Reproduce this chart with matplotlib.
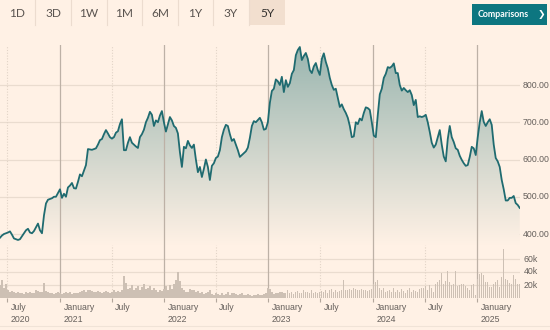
#!/usr/bin/env python
"""Five-year share price chart with weekly volume, FT markets style."""

import matplotlib

matplotlib.use("Agg")
import matplotlib.pyplot as plt
import matplotlib.dates as mdates
import matplotlib.transforms as mtransforms
from matplotlib.colors import LinearSegmentedColormap
from matplotlib.patches import Rectangle
import numpy as np
import pandas as pd


START = "2020-06-05"
END = "2025-05-31"

# weekly closing price
PRICE = [
    390, 396, 400, 402, 404, 407, 398, 388, 386, 384,
    386, 394, 402, 410, 414, 404, 402, 408, 418, 428,
    410, 402, 450, 482, 492, 494, 496, 500, 500, 510,
    520, 497, 508, 500, 525, 530, 537, 523, 522, 540,
    560, 555, 570, 585, 628, 627, 626, 628, 630, 640,
    652, 655, 668, 679, 670, 660, 656, 660, 672, 676,
    695, 708, 625, 625, 645, 660, 645, 640, 635, 631,
    660, 668, 680, 700, 712, 728, 720, 690, 705, 700,
    718, 730, 700, 675, 695, 714, 705, 690, 685, 670,
    620, 580, 634, 630, 650, 638, 631, 640, 600, 566,
    580, 553, 575, 600, 580, 545, 583, 590, 604, 608,
    625, 660, 680, 693, 690, 668, 650, 655, 640, 625,
    607, 612, 617, 622, 632, 658, 690, 703, 700, 706,
    712, 700, 680, 682, 700, 752, 784, 790, 815, 810,
    800, 822, 781, 813, 795, 805, 830, 840, 880, 894,
    902, 867, 878, 886, 870, 840, 832, 850, 859, 840,
    827, 870, 885, 862, 845, 819, 800, 787, 790, 765,
    741, 748, 735, 725, 712, 690, 660, 662, 700, 695,
    710, 705, 725, 740, 738, 733, 700, 664, 660, 720,
    775, 790, 819, 830, 848, 846, 850, 858, 832, 832,
    800, 785, 792, 786, 781, 786, 773, 746, 760, 714,
    716, 714, 716, 720, 700, 674, 645, 632, 640, 660,
    679, 640, 608, 595, 655, 690, 660, 647, 630, 626,
    610, 599, 590, 583, 585, 607, 634, 630, 612, 660,
    700, 730, 701, 690, 700, 708, 693, 640, 604, 595,
    580, 545, 520, 490, 490, 497, 497, 502, 483, 478,
    470,
]

# weekly volume, thousands of shares
VOLUME_K = [
    20, 28, 15, 22, 12, 10, 11, 9, 8, 10,
    7, 8, 6, 9, 8, 10, 7, 8, 12, 11,
    10, 9, 23, 11, 9, 8, 7, 6, 8, 9,
    7, 6, 8, 10, 7, 9, 6, 8, 7, 8,
    9, 11, 12, 10, 13, 12, 11, 9, 10, 11,
    9, 8, 10, 11, 9, 8, 10, 12, 9, 11,
    10, 13, 34, 23, 14, 16, 20, 12, 15, 18,
    13, 17, 21, 14, 16, 19, 12, 15, 13, 10,
    12, 11, 14, 18, 12, 20, 14, 22, 28, 40,
    26, 15, 13, 10, 9, 14, 12, 13, 9, 11,
    8, 10, 6, 7, 9, 12, 6, 5, 7, 6,
    5, 7, 4, 6, 9, 5, 7, 8, 6, 5,
    6, 7, 5, 4, 6, 5, 3, 5, 4, 6,
    5, 4, 6, 8, 15, 14, 9, 6, 8, 7,
    10, 9, 8, 7, 12, 8, 10, 6, 9, 11,
    8, 7, 13, 9, 10, 8, 12, 7, 9, 8,
    10, 11, 9, 12, 8, 13, 14, 10, 12, 9,
    11, 13, 28, 12, 13, 14, 12, 15, 14, 13,
    12, 14, 13, 12, 11, 13, 14, 22, 24, 28,
    16, 12, 15, 10, 11, 13, 9, 15, 10, 12,
    9, 14, 11, 8, 12, 15, 10, 13, 11, 9,
    14, 16, 15, 18, 12, 20, 16, 10, 22, 25,
    28, 38, 22, 26, 42, 24, 20, 22, 42, 18,
    20, 22, 21, 18, 15, 12, 20, 22, 5, 29,
    37, 38, 35, 25, 25, 17, 17, 22, 25, 28,
    17, 32, 75, 30, 28, 23, 22, 35, 30, 22,
    22,
]

PRICE_TICKS = [400, 500, 600, 700, 800]
VOLUME_TICKS = [20, 40, 60]
RANGE_BUTTONS = ["1D", "3D", "1W", "1M", "6M", "1Y", "3Y", "5Y"]
ACTIVE_RANGE = "5Y"

BG = "#fff1e5"
LINE = "#1f6b70"
GRID = "#eadccf"
TEXT = "#66605c"
AXIS_FONT = 6.3

W, H = 550, 330


def fx(px):
    return px / W


def fy(py):
    return 1 - py / H


def main() -> None:
    dates = pd.date_range(START, periods=len(PRICE), freq="7D")
    x0, x1 = mdates.date2num(pd.Timestamp(START)), mdates.date2num(pd.Timestamp(END))

    fig = plt.figure(figsize=(W / 100, H / 100), dpi=100, facecolor=BG)
    plot_right = 520

    ax = fig.add_axes([0, fy(245), fx(plot_right), fy(45) - fy(245)])
    axv = fig.add_axes([0, fy(298), fx(plot_right), fy(245) - fy(298)], sharex=ax)
    for a in (ax, axv):
        a.set_facecolor("none")
        for s in a.spines.values():
            s.set_visible(False)
        a.tick_params(left=False, right=False, labelleft=False, top=False)
    ax.tick_params(axis="x", bottom=False, labelbottom=False)

    label_x = fig.transFigure + mtransforms.Affine2D()
    right_tf = mtransforms.blended_transform_factory(fig.transFigure, ax.transData)
    right_tf_v = mtransforms.blended_transform_factory(fig.transFigure, axv.transData)

    # price panel
    ylo = 400 - 11 / 0.3725
    yhi = 800 + 40 / 0.3725
    ax.set_ylim(ylo, yhi)
    for p in PRICE_TICKS:
        ax.axhline(p, color=GRID, lw=0.9, zorder=0)
        ax.text(fx(522.5), p, f"{p:.2f}", transform=right_tf,
                ha="left", va="center", fontsize=AXIS_FONT, color=TEXT,
                family="Liberation Sans", clip_on=False)

    fade = LinearSegmentedColormap.from_list("fade", [BG, "#9ab6b0"])
    grad = np.linspace(1, 0, 256).reshape(-1, 1)
    im = ax.imshow(grad, extent=[x0, x1, ylo, max(PRICE)], aspect="auto",
                   cmap=fade, origin="upper", zorder=1)
    area = ax.fill_between(dates, PRICE, ylo, color="none", lw=0)
    im.set_clip_path(area.get_paths()[0], transform=ax.transData)
    ax.plot(dates, PRICE, color=LINE, lw=1.3, zorder=3, solid_joinstyle="round")

    # volume panel
    axv.set_ylim(0, 53 / 0.65)
    for v in VOLUME_TICKS:
        axv.axhline(v, color=GRID, lw=0.9, zorder=0)
        axv.text(fx(523.5), v, f"{v}k", transform=right_tf_v,
                 ha="left", va="center", fontsize=AXIS_FONT, color=TEXT,
                 family="Liberation Sans", clip_on=False)
    axv.bar(dates, VOLUME_K, width=4.6, color="#cdc0b4", zorder=2)

    # date grid, ticks and labels
    marks = pd.date_range("2020-07-01", "2025-01-01", freq="6MS")
    labels = []
    for d in marks:
        if d.month == 1:
            labels.append(f"January\n{d.year}")
        elif d.year == 2020:
            labels.append(f"July\n{d.year}")
        else:
            labels.append("July")
    for a in (ax, axv):
        for d in marks:
            if d.month == 1:
                a.axvline(d, color="#bdb1a6", lw=0.9, zorder=1.5)
            else:
                a.axvline(d, color="#e2d4c7", lw=0.8, ls=(0, (1, 1.5)), zorder=0.5)
    ax.set_xlim(x0, x1)
    axv.set_xticks(marks)
    axv.tick_params(axis="x", length=3, width=0.8, color="#b3a79c",
                    labelbottom=False, bottom=True)
    off = mtransforms.offset_copy(axv.get_xaxis_transform(), fig=fig, x=3.5, y=-4.5, units="dots")
    for d, lab in zip(marks, labels):
        axv.text(d, 0, lab, transform=off, ha="left", va="top", fontsize=AXIS_FONT,
                 color=TEXT, family="Liberation Sans", linespacing=1.45)

    fig.add_artist(plt.Line2D([0, 1], [fy(326), fy(326)], color="#f0e3d7", lw=0.8))

    # range buttons
    seps = [35, 71, 107, 142, 178, 213, 249]
    edges = [0] + seps + [285]
    for i, name in enumerate(RANGE_BUTTONS):
        left, right = edges[i], edges[i + 1]
        if name == ACTIVE_RANGE:
            fig.add_artist(Rectangle((fx(left), fy(25)), fx(right - left), fy(0) - fy(25),
                                     transform=fig.transFigure, color="#f2dfcf", lw=0))
        fig.text(fx((left + right) / 2), fy(13.5), name, ha="center", va="center",
                 fontsize=8.6, family="Lato",
                 color="#33302e" if name == ACTIVE_RANGE else "#5a5450")
    for s in seps:
        fig.add_artist(plt.Line2D([fx(s), fx(s)], [fy(0), fy(25)], color="#ecdccf", lw=0.8))

    # comparisons button
    fig.add_artist(Rectangle((fx(472), fy(25)), fx(75), fy(4) - fy(25),
                             transform=fig.transFigure, color="#0d7680", lw=0))
    fig.text(fx(478), fy(14.5), "Comparisons", ha="left", va="center", fontsize=6.4,
             family="Lato", weight="bold", color="white")
    fig.text(fx(541), fy(14.5), "\u276f", ha="center", va="center", fontsize=6.5,
             family=["Lato", "DejaVu Sans"], weight="bold", color="white")

    fig.savefig("out.png", dpi=100, facecolor=BG)
    plt.close(fig)


if __name__ == "__main__":
    main()
